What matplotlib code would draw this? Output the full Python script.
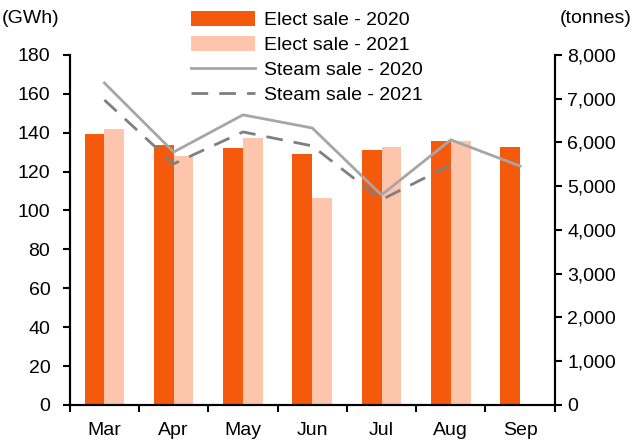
import numpy as np
import matplotlib.pyplot as plt
from matplotlib.ticker import FuncFormatter

plt.rcParams['font.family'] = ['Liberation Sans', 'DejaVu Sans']

months = ['Mar', 'Apr', 'May', 'Jun', 'Jul', 'Aug', 'Sep']
elect_2020 = [139.4, 133.7, 132.2, 129.0, 131.0, 135.8, 132.7]
elect_2021 = [141.9, 128.0, 137.3, 106.5, 132.7, 135.8]
steam_2020 = [7360, 5780, 6630, 6330, 4800, 6060, 5460]
steam_2021 = [6970, 5510, 6240, 5920, 4690, 5490]

fig = plt.figure(figsize=(6.34, 4.43), dpi=100)
ax1 = fig.add_axes([0.110, 0.086, 0.765, 0.790])
ax2 = ax1.twinx()

x = np.arange(len(months))
w = 0.285
b1 = ax1.bar(x - w/2, elect_2020, w, color='#f4590c', label='Elect sale - 2020')
b2 = ax1.bar(x[:len(elect_2021)] + w/2, elect_2021, w, color='#fec5ad', label='Elect sale - 2021')
l1, = ax2.plot(x, steam_2020, color='#a6a6a6', lw=2, label='Steam sale - 2020')
l2, = ax2.plot(x[:len(steam_2021)], steam_2021, color='#7f7f7f', lw=2,
               dashes=(6, 4), label='Steam sale - 2021')

ax1.set_xlim(-0.5, 6.5)
ax1.set_ylim(0, 180)
ax1.set_yticks(range(0, 181, 20))
ax2.set_ylim(0, 8000)
ax2.set_yticks(range(0, 8001, 1000))
ax2.yaxis.set_major_formatter(FuncFormatter(lambda v, p: f'{int(v):,}'))
ax1.set_xticks(x)
ax1.set_xticklabels(months)
ax1.set_xticks(np.arange(-0.5, 7, 1), minor=True)

fs = 14
for ax in (ax1, ax2):
    ax.spines['top'].set_visible(False)
    for s in ('left', 'right', 'bottom'):
        ax.spines[s].set_linewidth(1.5)
        ax.spines[s].set_color('black')
ax1.tick_params(axis='y', labelsize=fs, direction='out', length=5, width=1.5, pad=9)
ax2.tick_params(axis='y', labelsize=fs, direction='out', length=5, width=1.5, pad=4)
ax1.tick_params(axis='x', which='major', labelsize=fs, length=0, pad=12)
ax1.tick_params(axis='x', which='minor', length=5, width=1.5, direction='out')

fig.text(0.003, 0.958, '(GWh)', fontsize=fs, va='center')
fig.text(0.997, 0.958, '(tonnes)', fontsize=fs, va='center', ha='right')

fig.legend(handles=[b1, b2, l1, l2], loc='upper center', bbox_to_anchor=(0.484, 1.0),
           frameon=False, fontsize=fs, handlelength=3.3, labelspacing=0.36,
           handletextpad=0.5, borderaxespad=0.15, handleheight=0.8)

fig.savefig('out.png', dpi=100)
